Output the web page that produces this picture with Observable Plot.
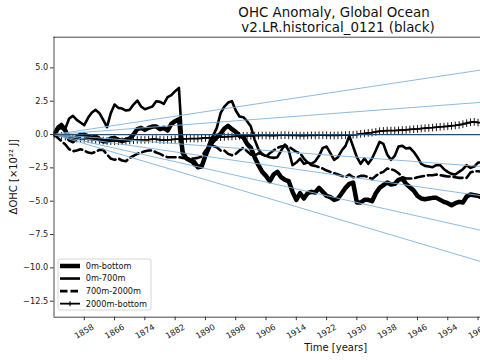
<!DOCTYPE html>
<html><head><meta charset="utf-8">
<script src="https://cdn.jsdelivr.net/npm/d3@7"></script>
<script src="https://cdn.jsdelivr.net/npm/@observablehq/plot@0.6"></script>
<style>
body{margin:0;background:#fff;}
#chart{width:480px;height:360px;overflow:hidden;}
</style></head><body><div id="chart"></div>
<script>
// ---- data ----
const firstYear = 1850;
const ohcBottom = [0,0.45,0.6,0.3,-0.35,-0.5,-0.2,0.0,0.0,-0.15,
 -0.25,-0.15,-0.35,-0.5,-0.5,-0.3,-0.25,-0.4,-0.5,-0.4,
 -0.3,0.0,0.4,0.5,0.35,0.5,0.6,0.6,0.4,0.5,
 0.3,0.8,1.0,1.15,-1.4,-1.8,-1.95,-2.05,-2.45,-2.4,
 -1.6,-0.9,-0.5,-0.2,0.05,0.45,0.65,0.4,0.2,-0.1,
 -0.2,-0.7,-1.0,-1.7,-2.3,-2.8,-3.1,-3.5,-3.0,-2.8,
 -3.2,-3.4,-3.5,-4.3,-4.9,-4.4,-4.8,-4.4,-4.3,-4.35,
 -4.0,-4.3,-4.6,-4.7,-4.9,-4.8,-4.4,-4.0,-3.7,-3.6,
 -5.1,-5.1,-4.9,-4.9,-5.0,-4.4,-4.0,-3.8,-3.6,-3.75,
 -3.7,-3.4,-3.3,-3.7,-3.95,-4.2,-4.6,-4.8,-4.85,-4.8,
 -4.75,-4.75,-4.9,-5.05,-5.15,-5.3,-5.15,-5.05,-5.1,-4.65,
 -4.5,-4.55,-4.6,-4.7];
const ohc0700 = [0,0.6,0.8,0.45,1.2,1.4,1.1,0.9,0.7,1.25,
 1.65,1.85,1.6,1.1,0.55,1.6,2.25,2.0,1.95,1.8,
 1.85,2.25,2.55,2.1,1.9,2.0,2.1,2.5,2.45,2.3,
 2.8,2.95,3.25,3.5,-1.2,-1.75,-1.95,-2.3,-2.35,-2.3,
 -1.5,-0.6,-0.1,0.5,1.6,2.1,2.4,2.5,1.8,1.35,
 1.3,1.0,0.6,-0.4,-1.1,-1.5,-1.6,-1.7,-1.75,-1.7,
 -1.2,-0.75,-1.2,-2.3,-2.1,-1.8,-2.2,-2.1,-2.2,-2.0,
 -1.6,-1.0,-0.9,-1.4,-1.9,-1.7,-1.2,-0.85,-0.1,-0.9,
 -1.7,-2.2,-1.8,-2.2,-1.8,-1.2,-0.55,-0.7,-1.5,-1.9,
 -1.6,-0.9,-0.85,-1.05,-1.0,-1.3,-1.7,-2.2,-2.35,-2.4,
 -2.45,-2.3,-2.3,-2.6,-2.8,-2.95,-3.0,-2.8,-2.6,-2.3,
 -2.5,-2.4,-2.1,-2.1];
const ohc7002000 = [0,-0.25,-0.5,-0.75,-1.1,-1.25,-1.2,-1.1,-1.2,-1.35,
 -1.4,-1.3,-1.15,-1.15,-1.5,-1.8,-1.9,-1.8,-1.95,-2.0,
 -1.75,-1.6,-1.45,-1.35,-1.25,-1.2,-1.2,-1.35,-1.45,-1.6,
 -1.7,-1.7,-1.7,-1.7,-1.75,-1.8,-1.8,-1.8,-1.75,-1.65,
 -1.2,-0.9,-0.85,-0.95,-1.2,-1.2,-1.45,-1.55,-1.45,-1.2,
 -1.0,-1.25,-1.5,-1.6,-1.4,-1.45,-1.65,-1.4,-1.2,-1.0,
 -0.9,-0.85,-0.9,-1.1,-1.3,-1.4,-1.8,-2.1,-2.3,-2.35,
 -2.45,-2.55,-2.7,-2.8,-2.9,-3.0,-3.1,-3.2,-3.0,-3.2,
 -3.2,-3.1,-3.1,-3.2,-3.35,-3.1,-2.9,-2.8,-2.55,-2.6,
 -2.7,-2.9,-3.2,-3.3,-3.3,-3.3,-3.2,-3.15,-3.1,-3.05,
 -3.05,-3.0,-3.05,-3.1,-3.15,-3.15,-3.2,-3.25,-3.25,-3.25,
 -2.85,-2.75,-2.75,-2.8];
const ohc2000Bottom = [0,-0.05,-0.1,-0.15,-0.2,-0.25,-0.3,-0.3,-0.32,-0.35,
 -0.38,-0.4,-0.42,-0.45,-0.48,-0.5,-0.5,-0.5,-0.5,-0.48,
 -0.45,-0.42,-0.4,-0.4,-0.4,-0.38,-0.35,-0.35,-0.4,-0.42,
 -0.4,-0.38,-0.35,-0.35,-0.32,-0.32,-0.3,-0.3,-0.3,-0.28,
 -0.25,-0.25,-0.22,-0.2,-0.2,-0.18,-0.15,-0.15,-0.12,-0.1,
 -0.1,-0.1,-0.1,-0.08,-0.08,-0.07,-0.07,-0.08,-0.08,-0.07,
 -0.05,-0.05,-0.06,-0.07,-0.07,-0.08,-0.08,-0.07,-0.06,-0.06,
 -0.05,-0.05,-0.06,-0.07,-0.07,-0.06,-0.05,-0.04,-0.02,-0.02,
 0.0,0.05,0.08,0.12,0.15,0.2,0.25,0.27,0.3,0.3,
 0.3,0.32,0.33,0.35,0.38,0.4,0.42,0.45,0.48,0.5,
 0.52,0.55,0.58,0.6,0.62,0.65,0.68,0.72,0.78,0.85,
 0.92,0.95,0.9,0.9];
// reference trend lines: start at 0 in 1850, value reached at 1963
const trendYears = [1850, 1963];
const trendEnds = [4.85, 2.42, -2.4, -4.6, -7.2, -9.55];
const xTicks = [1858,1866,1874,1882,1890,1898,1906,1914,1922,1930,1938,1946,1954,1962];
const yTicks = [5,2.5,0,-2.5,-5,-7.5,-10,-12.5];
const seriesNames = ["0m-bottom","0m-700m","700m-2000m","2000m-bottom"];

// ---- tables ----
const toRows = (arr) => arr.map((v, i) => ({year: firstYear + i, value: v}));
const rBottom = toRows(ohcBottom), r0700 = toRows(ohc0700),
      r7002000 = toRows(ohc7002000), r2000 = toRows(ohc2000Bottom);
const trendRows = trendEnds.flatMap((e, k) => [
  {k, year: trendYears[0], value: 0}, {k, year: trendYears[1], value: e}]);

const xDomain = [1850, 1962.65], yDomain = [-13.7, 7.3];
const fmt = d => d === 0 ? "0.0" : d.toFixed(1).replace("-", "\u2212");
const FONT = "DejaVu Sans, sans-serif";

const svg = Plot.plot({
  width: 480, height: 360,
  marginLeft: 53.5, marginRight: 0, marginTop: 36.7, marginBottom: 43.3,
  style: {fontFamily: FONT, fontSize: "8.2px", color: "#1a1a1a", background: "white", overflow: "visible"},
  x: {domain: xDomain},
  y: {domain: yDomain},
  marks: [
    Plot.line(r2000, {x: "year", y: "value", stroke: "black", strokeWidth: 1.8, clip: true}),
    Plot.dot(r2000, {x: "year", y: "value", symbol: "plus", r: 2.6, stroke: "black", strokeWidth: 0.9, clip: true}),
    Plot.line(r7002000, {x: "year", y: "value", stroke: "black", strokeWidth: 2.6, strokeDasharray: "9,4", clip: true}),
    Plot.line(r0700, {x: "year", y: "value", stroke: "black", strokeWidth: 2.6, clip: true}),
    Plot.line(rBottom, {x: "year", y: "value", stroke: "black", strokeWidth: 4.5, clip: true}),
    Plot.line(trendRows, {x: "year", y: "value", z: "k", stroke: "#7fb2dc", strokeWidth: 0.9, clip: true}),
    Plot.ruleY([0], {stroke: "#2e4d6b", strokeWidth: 1.3}),
    Plot.ruleX([xDomain[0]], {stroke: "#333", strokeWidth: 0.9}),
    Plot.ruleY([yDomain[0]], {stroke: "#333", strokeWidth: 0.9}),
    Plot.ruleY([yDomain[1]], {stroke: "#333", strokeWidth: 0.9}),
    Plot.axisY({ticks: yTicks, tickSize: 3.5, tickPadding: 2.3, tickFormat: fmt, label: null, fontSize: 8.2, stroke: "#333"}),
    Plot.axisX({ticks: xTicks, tickSize: 3.5, tickFormat: () => "", label: null, stroke: "#333"}),
    Plot.text(xTicks, {x: d => d, frameAnchor: "bottom", dy: 14.3, rotate: -30, text: d => String(d),
      fontSize: 8.2, textAnchor: "middle", lineAnchor: "middle", fill: "#1a1a1a"})
  ]
});

const s = d3.select(svg);
// titles and axis labels
s.append("text").attr("x", 334).attr("y", 16.5).attr("text-anchor", "middle")
  .attr("font-size", 13.4).attr("font-family", FONT).attr("fill", "#111").text("OHC Anomaly, Global Ocean");
s.append("text").attr("x", 338).attr("y", 31.7).attr("text-anchor", "middle")
  .attr("font-size", 13.4).attr("font-family", FONT).attr("fill", "#111").text("v2.LR.historical_0121 (black)");
s.append("text").attr("x", 335.7).attr("y", 350.7).attr("text-anchor", "middle")
  .attr("font-size", 10).attr("font-family", FONT).attr("fill", "#111").text("Time [years]");
s.append("text").attr("transform", "translate(16.5,176.7) rotate(-90)").attr("text-anchor", "middle")
  .attr("font-size", 10).attr("font-family", FONT).attr("fill", "#111").text("\u0394OHC [\u00d710\u00b2\u00b2 J]");

// legend
const lg = s.append("g");
lg.append("rect").attr("x", 58).attr("y", 259).attr("width", 93).attr("height", 51).attr("rx", 2)
  .attr("fill", "white").attr("fill-opacity", 0.8).attr("stroke", "#cccccc").attr("stroke-width", 0.8);
const legendRows = [
  {w: 4.5, dash: null, plus: false},
  {w: 2.6, dash: null, plus: false},
  {w: 2.6, dash: "7.5,3", plus: false},
  {w: 1.8, dash: null, plus: true}
];
legendRows.forEach((r, i) => {
  const y = 266 + i * 12.55;
  const l = lg.append("line").attr("x1", 60).attr("x2", 80).attr("y1", y).attr("y2", y)
    .attr("stroke", "black").attr("stroke-width", r.w);
  if (r.dash) l.attr("stroke-dasharray", r.dash);
  if (r.plus) {
    lg.append("path").attr("d", `M${70-2.6},${y}h5.2M70,${y-2.6}v5.2`).attr("stroke", "black").attr("stroke-width", 1);
  }
  lg.append("text").attr("x", 85.7).attr("y", y).attr("dy", "0.35em").attr("font-size", 8.2)
    .attr("text-anchor", "start")
    .attr("font-family", FONT).attr("fill", "#111").text(seriesNames[i]);
});

document.getElementById("chart").appendChild(svg);
</script></body></html>
